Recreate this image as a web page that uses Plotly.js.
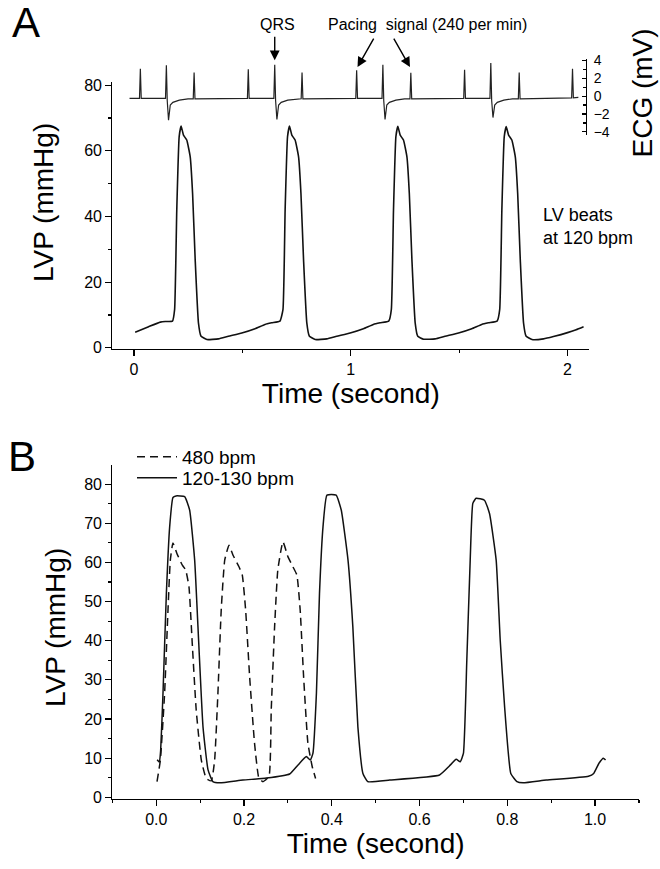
<!DOCTYPE html>
<html>
<head>
<meta charset="utf-8">
<script src="https://cdn.plot.ly/plotly-3.0.1.min.js"></script>
<style>html,body{margin:0;padding:0;background:#fff;}#chart{width:660px;height:869px;}</style>
</head>
<body>
<div id="chart"></div>
<script>
// Panel A: ECG trace (time s, mV)
const ecgTime = [-0.021,0.025,0.029,0.033,0.145,0.149,0.153,0.159,0.167,0.179,0.209,0.249,0.273,0.277,0.281,
  0.523,0.527,0.531,0.645,0.649,0.653,0.659,0.667,0.679,0.709,0.749,0.771,0.775,0.779,
  1.023,1.027,1.031,1.144,1.148,1.152,1.158,1.166,1.178,1.208,1.248,1.273,1.277,1.281,
  1.521,1.525,1.529,1.642,1.646,1.650,1.656,1.664,1.676,1.706,1.746,1.773,1.777,1.781,
  2.019,2.023,2.027,2.050];
const ecgMv = [-0.25,-0.25,3.05,-0.25,-0.25,3.45,-0.5,-2.7,-1.0,-0.7,-0.45,-0.3,-0.3,2.65,-0.3,
  -0.25,3.0,-0.25,-0.25,3.5,-0.5,-2.6,-1.0,-0.7,-0.45,-0.3,-0.3,2.65,-0.3,
  -0.25,2.9,-0.25,-0.25,3.5,-0.5,-2.6,-1.0,-0.7,-0.45,-0.3,-0.3,2.6,-0.3,
  -0.25,2.95,-0.25,-0.25,3.7,-0.5,-2.4,-1.0,-0.7,-0.45,-0.3,-0.3,2.65,-0.3,
  -0.2,3.05,-0.2,-0.15];

// Panel A: LV pressure (time s, mmHg)
const lvpATime = [0.005,0.067,0.121,0.144,0.177,0.187,0.197,0.208,0.217,0.228,0.243,0.259,0.270,0.282,0.297,0.309,0.336,0.389,0.435,0.497,0.558,0.604,0.635,0.673,
  0.687,0.697,0.708,0.717,0.728,0.743,0.759,0.770,0.782,0.797,0.809,0.836,0.889,0.935,0.997,1.058,1.104,1.135,1.175,
  1.187,1.197,1.208,1.217,1.228,1.243,1.259,1.270,1.282,1.297,1.309,1.336,1.389,1.435,1.497,1.558,1.604,1.635,1.675,
  1.687,1.697,1.708,1.717,1.728,1.743,1.759,1.770,1.782,1.797,1.809,1.836,1.889,1.935,2.000,2.040,2.074];
const lvpAValue = [4.7,6.4,7.8,8.0,8.1,11.6,42,64.3,67.6,64.8,63.3,58.2,47,26.8,7.6,3.5,2.5,2.7,3.5,4.5,5.8,7.1,7.6,8.1,
  11.6,42,64.3,67.6,64.8,63.3,58.2,47,26.8,7.6,3.5,2.5,2.7,3.5,4.5,5.8,7.1,7.6,8.1,
  11.6,42,64.3,67.5,64.8,63.3,58.2,47,26.8,7.6,3.5,2.6,2.7,3.5,4.5,5.8,7.1,7.6,8.1,
  11.6,42,64.3,67.4,64.8,63.3,58.2,47,26.8,7.6,3.5,2.5,2.7,3.4,4.6,5.5,6.4];

// Panel B: 480 bpm (dashed)
const fastTime = [0.0017,0.0093,0.019,0.0267,0.032,0.038,0.047,0.0594,0.067,0.0745,0.082,0.091,0.1027,0.114,0.1255,
  0.133,0.1405,0.148,0.156,0.1657,0.1747,0.1885,0.196,0.2037,0.2128,0.224,0.234,0.243,
  0.2568,0.262,0.2697,0.277,0.2887,0.300,0.3114,0.3205,0.328,0.3358,0.3456,0.3555,0.3631];
const fastValue = [4.0,9.5,26.6,47.8,60.6,65.0,62.3,59.3,58.1,53.8,39.3,22.3,9.5,4.8,4.2,
  9.5,26.6,47.8,60.6,64.4,61.9,58.9,56.8,47.8,30.8,13.8,4.8,4.0,
  5.3,22.3,43.6,58.1,65.3,61.5,58.9,56.8,47.8,30.8,13.8,7.8,4.8];

// Panel B: 120-130 bpm (solid)
const slowTime = [0.002,0.007,0.010,0.0153,0.023,0.0305,0.038,0.045,0.0647,0.076,0.0875,0.095,0.1065,0.118,0.129,0.145,0.1975,0.251,0.304,0.323,0.342,0.351,0.357,
  0.365,0.372,0.380,0.389,0.410,0.4216,0.437,0.448,0.4595,0.471,0.482,0.532,0.6456,0.668,0.6836,0.6927,0.700,
  0.7078,0.7155,0.7215,0.729,0.748,0.7595,0.7747,0.784,0.794,0.808,0.822,0.836,0.889,0.985,0.997,1.009,1.019,1.024];
const slowValue = [9.6,9.0,12,26.6,52.1,69.1,76.6,77.0,76.8,73.4,60.6,43.6,18,7.0,4.0,3.7,4.4,4.9,5.95,8.25,10.4,9.5,11.2,
  26.6,52.1,69.1,77.2,77.2,73.4,60.6,43.6,18,6.1,4.0,4.4,5.7,8.0,9.7,9.1,11.2,
  35.1,60.6,75.1,76.4,75.9,72.5,60.6,40,23,6.1,4.0,3.7,4.4,5.4,6.1,8.7,10.0,9.5];

const legendNames = ['480 bpm', '120-130 bpm'];

const FONT = 'Liberation Sans, Arial, Helvetica, sans-serif';
const W = 660, H = 869;
const px = v => v / W;
const py = v => (H - v) / H;

const traces = [
  {x: ecgTime, y: ecgMv, xaxis: 'x', yaxis: 'y2', mode: 'lines', line: {color: '#222', width: 1.2}, showlegend: false, hoverinfo: 'skip'},
  {x: lvpATime, y: lvpAValue, xaxis: 'x', yaxis: 'y', mode: 'lines', line: {color: '#111', width: 1.6, shape: 'spline', smoothing: 0.4}, showlegend: false, hoverinfo: 'skip'},
  {x: fastTime, y: fastValue, xaxis: 'x2', yaxis: 'y3', mode: 'lines', name: legendNames[0], legend: 'legend', line: {color: '#111', width: 1.5, dash: '8px,5px', shape: 'spline', smoothing: 0.4}},
  {x: slowTime, y: slowValue, xaxis: 'x2', yaxis: 'y3', mode: 'lines', name: legendNames[1], legend: 'legend2', line: {color: '#111', width: 1.5, shape: 'spline', smoothing: 0.4}}
];

const axisCommon = {
  showline: true, linecolor: '#000', linewidth: 1.2, showgrid: false, zeroline: false,
  ticks: 'outside', ticklen: 6, tickwidth: 1.2, tickcolor: '#000',
  tickfont: {family: FONT, size: 16, color: '#000'}, fixedrange: true
};

const legendCommon = {xanchor: 'left', yanchor: 'top', bgcolor: 'rgba(0,0,0,0)',
  font: {family: FONT, size: 19, color: '#000'}, itemwidth: 40};

const annot = (text, x, y, size, extra) => Object.assign({text: text, xref: 'paper', yref: 'paper', x: px(x), y: py(y),
  xanchor: 'center', yanchor: 'middle', showarrow: false, font: {family: FONT, size: size, color: '#000'}}, extra || {});

const layout = {
  width: W, height: H,
  margin: {l: 0, r: 0, t: 0, b: 0},
  paper_bgcolor: '#fff', plot_bgcolor: 'rgba(0,0,0,0)',
  font: {family: FONT, color: '#000'},
  showlegend: true,
  legend: Object.assign({x: px(132), y: py(438)}, legendCommon),
  legend2: Object.assign({x: px(132), y: py(459)}, legendCommon),
  xaxis: Object.assign({}, axisCommon, {
    domain: [px(112.4), px(589.2)], anchor: 'y', range: [-0.1, 2.1], tick0: 0, dtick: 1,
    minor: {dtick: 0.5, ticklen: 3, ticks: 'outside', tickcolor: '#000', tickwidth: 1.2},
    title: {text: 'Time (second)', font: {family: FONT, size: 28, color: '#000'}, standoff: 0}
  }),
  yaxis: Object.assign({}, axisCommon, {
    domain: [py(348.7), py(82)], anchor: 'x', range: [-0.3, 81], tick0: 0, dtick: 20,
    minor: {dtick: 10, ticklen: 3, ticks: 'outside', tickcolor: '#000', tickwidth: 1.2}
  }),
  yaxis2: Object.assign({}, axisCommon, {
    domain: [py(135), py(59)], anchor: 'free', position: px(585.7), side: 'right',
    range: [-4.35, 4.15], tick0: 0, dtick: 2, ticks: 'inside', ticklen: 4,
    ticklabelstandoff: 4,
    tickfont: {family: FONT, size: 14, color: '#000'},
    minor: {dtick: 1, ticklen: 2.5, ticks: 'inside', tickcolor: '#000', tickwidth: 1.2}
  }),
  xaxis2: Object.assign({}, axisCommon, {
    domain: [px(112.4), px(638.9)], anchor: 'y3', range: [-0.1, 1.1], tick0: 0, dtick: 0.2, tickformat: '.1f',
    minor: {dtick: 0.1, ticklen: 3, ticks: 'outside', tickcolor: '#000', tickwidth: 1.2},
    title: {text: 'Time (second)', font: {family: FONT, size: 28, color: '#000'}, standoff: 4}
  }),
  yaxis3: Object.assign({}, axisCommon, {
    domain: [py(798.7), py(465)], anchor: 'x2', range: [-0.36, 84.9], tick0: 0, dtick: 10,
    minor: {dtick: 5, ticklen: 3, ticks: 'outside', tickcolor: '#000', tickwidth: 1.2}
  }),
  annotations: [
    annot('A', 26, 22, 42),
    annot('B', 22, 456, 42),
    annot('LVP (mmHg)', 43, 203, 28, {textangle: -90}),
    annot('LVP (mmHg)', 55, 628, 28, {textangle: -90}),
    annot('ECG (mV)', 642, 93.5, 28, {textangle: -90}),
    annot('QRS', 277, 24, 16),
    annot('Pacing\u00a0 signal (240 per min)', 427, 24, 16),
    annot('LV beats<br>at 120 bpm', 541, 226, 18, {xanchor: 'left', align: 'left'}),
    {text: '', xref: 'x', yref: 'y2', x: 0.649, y: 4.0, showarrow: true, arrowhead: 2, arrowsize: 1.4, arrowwidth: 1.4, arrowcolor: '#000', ax: 0, ay: -25, standoff: 0},
    {text: '', xref: 'x', yref: 'y2', x: 1.031, y: 3.25, showarrow: true, arrowhead: 2, arrowsize: 1.4, arrowwidth: 1.4, arrowcolor: '#000', ax: 17, ay: -30, standoff: 0},
    {text: '', xref: 'x', yref: 'y2', x: 1.273, y: 3.25, showarrow: true, arrowhead: 2, arrowsize: 1.4, arrowwidth: 1.4, arrowcolor: '#000', ax: -17, ay: -30, standoff: 0}
  ]
};

Plotly.newPlot('chart', traces, layout, {staticPlot: true, displayModeBar: false});
</script>
</body>
</html>
